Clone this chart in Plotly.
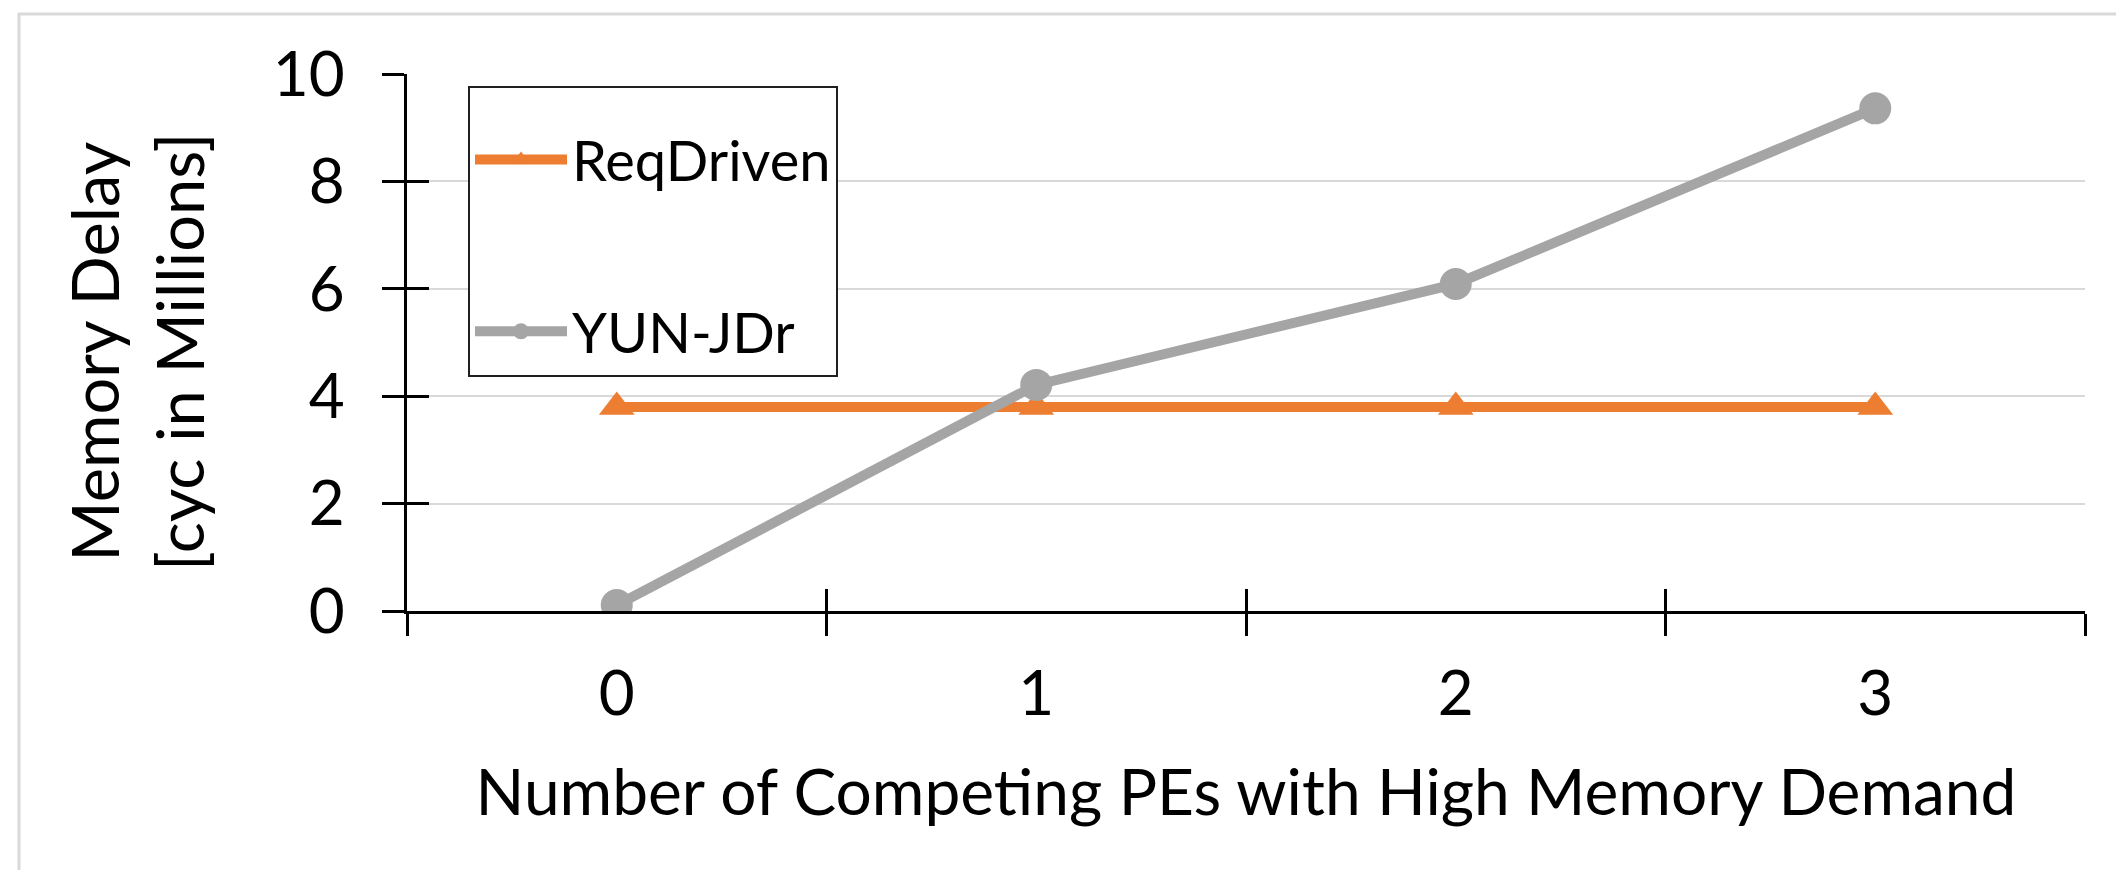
import plotly.graph_objects as go

# Number of competing PEs (category axis) and measured memory delay (millions of cycles)
pe_counts = ["0", "1", "2", "3"]
req_driven = [3.8, 3.8, 3.8, 3.8]
yun_jdr = [0.11, 4.21, 6.09, 9.36]

y_ticks = [0, 2, 4, 6, 8, 10]

ORANGE = "#ED7D31"
GREY = "#A5A5A5"
FONT = "Lato, 'Open Sans', sans-serif"

W, H = 2116, 870
L, R, T, B = 407, 31, 74, 259
PW, PH = W - L - R, H - T - B


def px_x(px):
    """Horizontal pixel position -> paper coordinate."""
    return (px - L) / PW


def px_y(py):
    """Vertical pixel position (from top) -> paper coordinate."""
    return (H - B - py) / PH


fig = go.Figure()

fig.add_trace(go.Scatter(
    x=pe_counts, y=req_driven, name="ReqDriven", mode="lines+markers",
    line=dict(color=ORANGE, width=10),
    marker=dict(symbol="triangle-up", size=31, color=ORANGE),
    legendgroup="a",
))
fig.add_trace(go.Scatter(
    x=pe_counts, y=yun_jdr, name="YUN-JDr", mode="lines+markers",
    line=dict(color=GREY, width=10),
    marker=dict(symbol="circle", size=32, color=GREY),
    legendgroup="b",
))

tick_font = dict(family=FONT, size=62, color="black")

fig.update_layout(
    width=W, height=H,
    margin=dict(l=L, r=R, t=T, b=B),
    paper_bgcolor="white", plot_bgcolor="white",
    font=dict(family=FONT, color="black"),
    showlegend=True,
    legend=dict(
        x=px_x(468), y=px_y(86),
        xanchor="left", yanchor="top",
        bgcolor="white", bordercolor="#202020", borderwidth=2,
        font=dict(family=FONT, size=56, color="black"),
        title=dict(text=" ", font=dict(size=22)),
        itemwidth=92, tracegroupgap=96,
    ),
    xaxis=dict(
        type="category", categoryorder="array", categoryarray=pe_counts,
        range=[-0.5, 3.5], tickson="boundaries",
        ticks="outside", ticklen=22, tickwidth=3, tickcolor="black",
        showline=True, linecolor="black", linewidth=3,
        showgrid=False, zeroline=False,
        tickfont=tick_font, ticklabelstandoff=27,
        title=dict(text="Number of Competing PEs with High Memory Demand",
                   font=dict(family=FONT, size=64, color="black"), standoff=43),
    ),
    yaxis=dict(
        range=[0, 10], tickvals=y_ticks,
        ticks="outside", ticklen=22, tickwidth=3, tickcolor="black",
        showline=True, linecolor="black", linewidth=3,
        showgrid=True, gridcolor="#D9D9D9", gridwidth=2, zeroline=False,
        tickfont=tick_font, ticklabelstandoff=25,
    ),
    # companion axes carrying the inner halves of the crossing tick marks
    xaxis2=dict(
        overlaying="x", anchor="y", side="bottom", range=[-0.5, 3.5],
        tickvals=[-0.5, 0.5, 1.5, 2.5, 3.5], showticklabels=False,
        ticks="inside", ticklen=22, tickwidth=3, tickcolor="black",
        showgrid=False, zeroline=False, showline=False,
    ),
    yaxis2=dict(
        overlaying="y", anchor="x", side="left", range=[0, 10],
        tickvals=y_ticks, showticklabels=False,
        ticks="inside", ticklen=22, tickwidth=3, tickcolor="black",
        showgrid=False, zeroline=False, showline=False,
    ),
    annotations=[dict(
        text="Memory Delay<br>[cyc in Millions]",
        xref="paper", yref="paper", x=px_x(136), y=px_y(352),
        xanchor="center", yanchor="middle", textangle=-90, showarrow=False,
        font=dict(family=FONT, size=65, color="black"),
    )],
    shapes=[dict(
        type="rect", xref="paper", yref="paper",
        x0=px_x(19), x1=px_x(2140), y0=px_y(890), y1=px_y(14),
        line=dict(color="#D9D9D9", width=3), fillcolor="rgba(0,0,0,0)",
        layer="below",
    )],
)

# invisible helper trace so the companion axes are instantiated
fig.add_trace(go.Scatter(x=[None], y=[None], xaxis="x2", yaxis="y2",
                         showlegend=False, hoverinfo="skip"))

fig.write_html("out.html")
